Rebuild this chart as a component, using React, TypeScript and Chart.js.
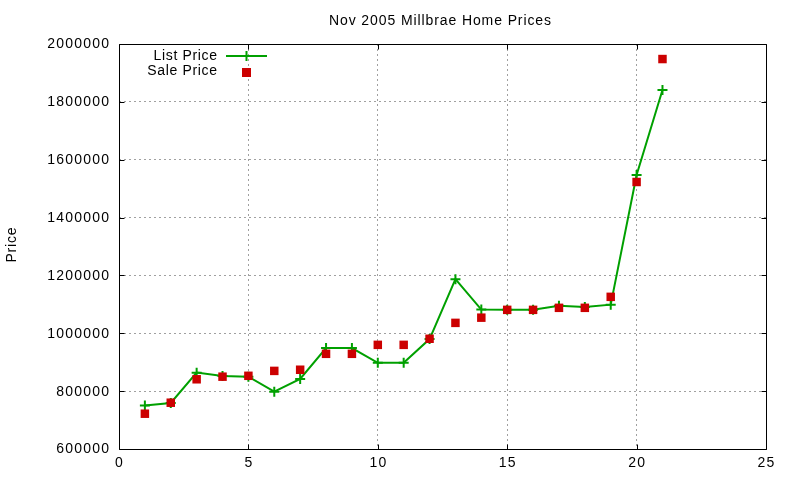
import React, { useEffect, useRef } from "react";
import { Chart, registerables } from "chart.js";

Chart.register(...registerables);

const chartTitle = "Nov 2005 Millbrae Home Prices";
const yAxisTitle = "Price";
const seriesLabels = ["List Price", "Sale Price"];
const houseIndex = [1, 2, 3, 4, 5, 6, 7, 8, 9, 10, 11, 12, 13, 14, 15, 16, 17, 18, 19, 20, 21];
const listPrice = [
  750000, 759000, 864000, 852000, 850000, 798000, 842000, 949000, 949000, 898000, 898000,
  980000, 1187000, 1082000, 1081000, 1081000, 1095000, 1091000, 1099000, 1547000, 1841000,
];
const salePrice = [
  722000, 760000, 841000, 850000, 853000, 870000, 874000, 929000, 929000, 960000, 960000,
  981000, 1036000, 1054000, 1081000, 1081000, 1088000, 1088000, 1126000, 1523000, 1948000,
];
const xMin = 0;
const xMax = 25;
const xStep = 5;
const yMin = 600000;
const yMax = 2000000;
const yStep = 200000;

const FONT = '"Liberation Sans", Arial, sans-serif';
const LIST_COLOR = "#00a000";
const SALE_COLOR = "#cc0000";
const GRID_COLOR = "#a0a0a0";

function spacedText(ctx: CanvasRenderingContext2D, text: string, x: number, y: number, align: CanvasTextAlign, spacing: number) {
  (ctx as any).letterSpacing = spacing + "px";
  ctx.textAlign = align;
  ctx.textBaseline = "middle";
  let dx = 0;
  if (align === "right") dx = spacing;
  else if (align === "center") dx = spacing / 2;
  ctx.fillText(text, x + dx, y);
  (ctx as any).letterSpacing = "0px";
}

const gnuFrame = {
  id: "gnuFrame",
  beforeDatasetsDraw(chart: any) {
    const ctx: CanvasRenderingContext2D = chart.ctx;
    const { left, right, top, bottom } = chart.chartArea;
    const L = Math.round(left) + 0.5;
    const R = Math.round(right) + 0.5;
    const T = Math.round(top) + 0.5;
    const B = Math.round(bottom) + 0.5;
    ctx.save();
    ctx.strokeStyle = "#000";
    ctx.lineWidth = 1;
    ctx.setLineDash([]);
    ctx.beginPath();
    ctx.rect(L, T, R - L, B - T);
    const tl = 5;
    const xs = chart.scales.x;
    const ys = chart.scales.y;
    xs.ticks.forEach((t: any) => {
      const px = Math.round(xs.getPixelForValue(t.value)) + 0.5;
      ctx.moveTo(px, B);
      ctx.lineTo(px, B - tl);
      ctx.moveTo(px, T);
      ctx.lineTo(px, T + tl);
    });
    ys.ticks.forEach((t: any) => {
      const py = Math.round(ys.getPixelForValue(t.value)) + 0.5;
      ctx.moveTo(L, py);
      ctx.lineTo(L + tl, py);
      ctx.moveTo(R, py);
      ctx.lineTo(R - tl, py);
    });
    ctx.stroke();
    ctx.restore();
  },
  afterDraw(chart: any) {
    const ctx: CanvasRenderingContext2D = chart.ctx;
    const { left, bottom } = chart.chartArea;
    const xs = chart.scales.x;
    const ys = chart.scales.y;
    ctx.save();
    ctx.fillStyle = "#000";
    ctx.font = "14px " + FONT;
    ys.ticks.forEach((t: any) => {
      const py = ys.getPixelForValue(t.value);
      spacedText(ctx, String(t.value), left - 10, py + 0.5, "right", 1.2);
    });
    xs.ticks.forEach((t: any) => {
      const px = xs.getPixelForValue(t.value);
      spacedText(ctx, String(t.value), px, bottom + 14, "center", 1.2);
    });
    // title
    spacedText(ctx, chartTitle, 440, 21, "center", 0.9);
    // y axis title
    ctx.save();
    ctx.translate(12, 245);
    ctx.rotate(-Math.PI / 2);
    spacedText(ctx, yAxisTitle, 0, 0, "center", 0.8);
    ctx.restore();
    // legend
    const ds = chart.data.datasets;
    spacedText(ctx, ds[0].label, 217, 56, "right", 0.65);
    spacedText(ctx, ds[1].label, 217, 71, "right", 0.65);
    ctx.strokeStyle = ds[0].borderColor;
    ctx.lineWidth = 2;
    ctx.beginPath();
    ctx.moveTo(226, 56);
    ctx.lineTo(267, 56);
    ctx.moveTo(246.5, 51);
    ctx.lineTo(246.5, 61);
    ctx.stroke();
    ctx.fillStyle = ds[1].pointBackgroundColor;
    ctx.fillRect(242, 68, 9, 9);
    ctx.restore();
  },
};

export default function App() {
  const canvasRef = useRef<HTMLCanvasElement | null>(null);

  useEffect(() => {
    if (!canvasRef.current) return;
    const gridColor = (c: any) => {
      const n = c.scale.ticks.length;
      return c.index === 0 || c.index === n - 1 ? "rgba(0,0,0,0)" : GRID_COLOR;
    };
    const chart = new Chart(canvasRef.current, {
      type: "line",
      data: {
        datasets: [
          {
            label: seriesLabels[0],
            data: houseIndex.map((x, i) => ({ x, y: listPrice[i] })),
            borderColor: LIST_COLOR,
            backgroundColor: LIST_COLOR,
            borderWidth: 2,
            pointStyle: "cross",
            pointRadius: 5,
            pointBorderWidth: 2,
            pointBorderColor: LIST_COLOR,
            pointBackgroundColor: LIST_COLOR,
            tension: 0,
            fill: false,
            order: 2,
          },
          {
            label: seriesLabels[1],
            data: houseIndex.map((x, i) => ({ x, y: salePrice[i] })),
            showLine: false,
            borderColor: SALE_COLOR,
            backgroundColor: SALE_COLOR,
            pointStyle: "rect",
            pointRadius: 6,
            pointBorderWidth: 0,
            pointBackgroundColor: SALE_COLOR,
            order: 1,
          },
        ],
      },
      options: {
        responsive: false,
        animation: false,
        devicePixelRatio: 1,
        layout: { padding: { left: 0, right: 34, top: 44, bottom: 0 } },
        plugins: {
          legend: { display: false },
          title: { display: false },
          tooltip: { enabled: false },
        },
        scales: {
          x: {
            type: "linear",
            min: xMin,
            max: xMax,
            ticks: { stepSize: xStep, display: false },
            grid: { color: gridColor, drawTicks: false, lineWidth: 1 },
            border: { display: false, dash: [2, 3] },
            afterFit: (s: any) => {
              s.height = 31;
            },
          },
          y: {
            type: "linear",
            min: yMin,
            max: yMax,
            ticks: { stepSize: yStep, display: false },
            grid: { color: gridColor, drawTicks: false, lineWidth: 1 },
            border: { display: false, dash: [2, 3] },
            afterFit: (s: any) => {
              s.width = 119;
            },
          },
        },
      } as any,
      plugins: [gnuFrame],
    });
    return () => chart.destroy();
  }, []);

  return (
    <div style={{ position: "absolute", left: 0, top: 0, width: 800, height: 480, background: "#fff" }}>
      <canvas ref={canvasRef} width={800} height={480} style={{ display: "block" }} />
    </div>
  );
}
